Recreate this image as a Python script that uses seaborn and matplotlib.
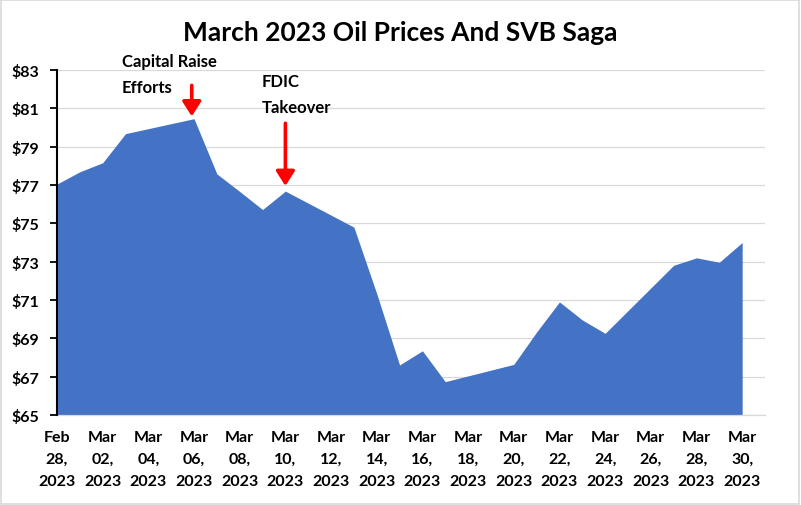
import matplotlib
matplotlib.use("Agg")
import matplotlib.pyplot as plt
import matplotlib.dates as mdates
import matplotlib.patches as mpatches
import seaborn as sns
import pandas as pd
import numpy as np

# ---- data ----
dates = ["2023-02-28", "2023-03-01", "2023-03-02", "2023-03-03", "2023-03-06",
         "2023-03-07", "2023-03-08", "2023-03-09", "2023-03-10", "2023-03-13",
         "2023-03-14", "2023-03-15", "2023-03-16", "2023-03-17", "2023-03-20",
         "2023-03-21", "2023-03-22", "2023-03-23", "2023-03-24", "2023-03-27",
         "2023-03-28", "2023-03-29", "2023-03-30"]
prices = [77.05, 77.69, 78.16, 79.68, 80.46,
          77.58, 76.66, 75.72, 76.68, 74.80,
          71.33, 67.61, 68.35, 66.74, 67.64,
          69.33, 70.90, 69.96, 69.26, 72.81,
          73.20, 72.97, 74.00]
tick_dates = pd.date_range("2023-02-28", "2023-03-30", freq="2D")
y_ticks = list(range(65, 84, 2))
title = "March 2023 Oil Prices And SVB Saga"
annot1 = "Capital Raise\nEfforts"
annot2 = "FDIC\nTakeover"

df = pd.DataFrame({"date": pd.to_datetime(dates), "price": prices})

sns.set_theme(style="white")
plt.rcParams["font.family"] = ["Lato", "DejaVu Sans"]

fig = plt.figure(figsize=(8.01, 5.06), dpi=100)
ax = fig.add_axes([57 / 801, 1 - 416 / 506, (765 - 57) / 801, (416 - 71) / 506])

color = "#4472C4"
sns.lineplot(data=df, x="date", y="price", ax=ax, color=color, linewidth=0)
ax.fill_between(df["date"], df["price"], 65, color=color, linewidth=0, zorder=2)

ax.set_ylim(65, 83)
ax.set_xlim(pd.Timestamp("2023-02-28"), pd.Timestamp("2023-03-31"))
ax.set_yticks(y_ticks)
ax.set_yticklabels([f"${v}" for v in y_ticks], fontweight="bold", fontsize=11.5)
ax.set_xticks(tick_dates)
ax.set_xticklabels([d.strftime("%b\n%d,\n%Y") for d in tick_dates],
                   fontweight="bold", fontsize=11.5, linespacing=1.72)
ax.set_xlabel("")
ax.set_ylabel("")

ax.grid(axis="y", color="#D9D9D9", linewidth=0.9, zorder=0)
ax.grid(axis="x", visible=False)
ax.set_axisbelow(True)
for s in ["top", "right"]:
    ax.spines[s].set_visible(False)
ax.spines["bottom"].set_color("#D9D9D9")
ax.spines["bottom"].set_linewidth(0.9)
ax.spines["left"].set_color("black")
ax.spines["left"].set_linewidth(1.5)
ax.spines["left"].set_zorder(5)
ax.tick_params(axis="y", which="major", direction="out", length=5, width=1.3,
               color="black", pad=8, left=True, labelcolor="black")
ax.tick_params(axis="x", which="major", length=0, pad=11, labelcolor="black")

fig.text(0.5, 1 - 33 / 506, title, ha="center", va="center",
         fontsize=19, fontweight="bold", color="black")

# annotations
d0 = mdates.date2num(pd.Timestamp("2023-02-28"))
mar06 = mdates.date2num(pd.Timestamp("2023-03-06"))
mar10 = mdates.date2num(pd.Timestamp("2023-03-10"))

ax.text(d0 + 2.84, 82.80, annot1, ha="left", va="center", fontsize=12,
        fontweight="bold", color="black", linespacing=1.75, clip_on=False)
ax.text(d0 + 8.95, 81.73, annot2, ha="left", va="center", fontsize=12,
        fontweight="bold", color="black", linespacing=1.75, clip_on=False)

arrow_kw = dict(arrowstyle="-|>,head_width=0.35,head_length=0.55", color="red",
                lw=2.6, shrinkA=0, shrinkB=0, mutation_scale=16)
ax.annotate("", xy=(mar06 - 0.1, 80.58), xytext=(mar06 - 0.1, 82.2),
            arrowprops=arrow_kw, annotation_clip=False, zorder=6)
ax.annotate("", xy=(mar10, 76.95), xytext=(mar10, 80.22),
            arrowprops=arrow_kw, annotation_clip=False, zorder=6)

# chart border
fig.patches.append(mpatches.Rectangle((0.001, 0.002), 0.997, 0.996, transform=fig.transFigure,
                                      fill=False, edgecolor="#D9D9D9", linewidth=1.2))

fig.savefig("out.png", dpi=100)
